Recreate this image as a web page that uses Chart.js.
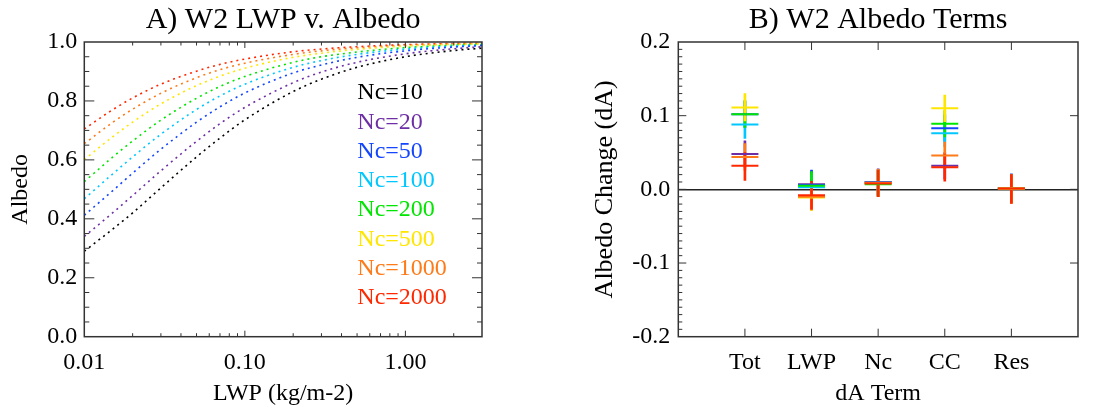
<!DOCTYPE html>
<html>
<head>
<meta charset="utf-8">
<title>W2 LWP v. Albedo / W2 Albedo Terms</title>
<script src="https://cdn.jsdelivr.net/npm/chart.js@4.4.1/dist/chart.umd.min.js"></script>
<style>
  html, body { margin: 0; padding: 0; background: #fff; }
  #wrap { position: relative; width: 1097px; height: 408px; }
  #leftBox { position: absolute; left: 0; top: 0; width: 550px; height: 408px; }
  #rightBox { position: absolute; left: 550px; top: 0; width: 547px; height: 408px; }
</style>
</head>
<body>
<div id="wrap">
  <div id="leftBox"><canvas id="lwpChart" width="550" height="408"></canvas></div>
  <div id="rightBox"><canvas id="termChart" width="547" height="408"></canvas></div>
</div>
<script>
// ---- panel A: albedo vs LWP for each droplet number ----
const lwp = [0.01, 0.015, 0.02, 0.03, 0.05, 0.07, 0.1, 0.2, 0.3, 0.5, 1.0, 2.0, 3.0];
const albNc10   = [0.29, 0.365, 0.42, 0.505, 0.61, 0.674, 0.736, 0.832, 0.874, 0.914, 0.95, 0.971, 0.979];
const albNc20   = [0.34, 0.42, 0.479, 0.563, 0.663, 0.723, 0.778, 0.862, 0.898, 0.931, 0.96, 0.977, 0.984];
const albNc50   = [0.412, 0.495, 0.555, 0.636, 0.728, 0.78, 0.827, 0.895, 0.922, 0.948, 0.97, 0.983, 0.988];
const albNc100  = [0.468, 0.552, 0.61, 0.687, 0.771, 0.817, 0.857, 0.914, 0.937, 0.958, 0.976, 0.986, 0.99];
const albNc200  = [0.526, 0.609, 0.664, 0.735, 0.809, 0.849, 0.883, 0.931, 0.95, 0.966, 0.981, 0.989, 0.992];
const albNc500  = [0.601, 0.678, 0.728, 0.79, 0.852, 0.884, 0.911, 0.948, 0.962, 0.975, 0.986, 0.992, 0.994];
const albNc1000 = [0.655, 0.727, 0.772, 0.826, 0.879, 0.906, 0.928, 0.958, 0.97, 0.98, 0.989, 0.994, 0.995];
const albNc2000 = [0.705, 0.77, 0.81, 0.857, 0.901, 0.924, 0.942, 0.967, 0.976, 0.984, 0.991, 0.995, 0.996];
const ncLabels = ['Nc=10', 'Nc=20', 'Nc=50', 'Nc=100', 'Nc=200', 'Nc=500', 'Nc=1000', 'Nc=2000'];
const ncColors = ['#000000', '#6E2FA6', '#1446FF', '#00C8FF', '#00E600', '#FFE600', '#FF7A18', '#FF2800'];
const xMajorTicks = [0.01, 0.1, 1];
const xMajorLabels = ['0.01', '0.10', '1.00'];

// ---- panel B: albedo change terms (centre, low, high) ----
const terms = ['Tot', 'LWP', 'Nc', 'CC', 'Res'];
const dA20     = [0.048, 0.007, 0.010, 0.032, 0.001];
const dA20lo   = [0.030, -0.011, -0.008, 0.014, -0.017];
const dA20hi   = [0.066, 0.025, 0.028, 0.050, 0.019];
const dA50     = [0.102, 0.006, 0.0095, 0.083, 0.0015];
const dA50lo   = [0.084, -0.012, -0.009, 0.065, -0.017];
const dA50hi   = [0.120, 0.026, 0.027, 0.101, 0.021];
const dA100    = [0.088, 0.003, 0.0085, 0.076, 0.0015];
const dA100lo  = [0.069, -0.015, -0.009, 0.058, -0.017];
const dA100hi  = [0.105, 0.021, 0.026, 0.094, 0.020];
const dA200    = [0.102, 0.005, 0.007, 0.089, 0.001];
const dA200lo  = [0.084, -0.013, -0.010, 0.071, -0.018];
const dA200hi  = [0.120, 0.024, 0.025, 0.107, 0.019];
const dA500    = [0.111, -0.011, 0.009, 0.110, 0.001];
const dA500lo  = [0.093, -0.029, -0.009, 0.092, -0.018];
const dA500hi  = [0.130, 0.007, 0.027, 0.128, 0.019];
const dA1000   = [0.044, -0.010, 0.0085, 0.046, 0.001];
const dA1000lo = [0.026, -0.028, -0.010, 0.028, -0.019];
const dA1000hi = [0.062, 0.008, 0.027, 0.064, 0.020];
const dA2000   = [0.032, -0.008, 0.008, 0.030, 0.001];
const dA2000lo = [0.012, -0.027, -0.010, 0.011, -0.019];
const dA2000hi = [0.050, 0.011, 0.026, 0.048, 0.020];

Chart.defaults.font.family = "'Liberation Serif', 'Times New Roman', serif";
Chart.defaults.color = '#000';

const isMult = (v, step) => Math.abs(v / step - Math.round(v / step)) < 1e-6;

// log axis tick positions: 1..9 in each decade up to 3
const xTickVals = [];
xMajorTicks.forEach(d => {
  for (let m = 1; m <= 9; m++) {
    const v = +(m * d).toPrecision(3);
    if (v <= 3) xTickVals.push(v);
  }
});

// IDL-like box with inward ticks on all four sides
function frameTicks(xLen, yLeftLen, yRightLen) {
  return {
    id: 'frameTicks',
    afterDatasetsDraw(chart) {
      const {ctx, chartArea: a} = chart;
      const xs = chart.scales.x, ys = chart.scales.y;
      ctx.save();
      ctx.strokeStyle = '#333';
      ctx.lineWidth = 1;
      ctx.beginPath();
      xs.ticks.forEach(t => {
        const p = xs.getPixelForValue(t.value);
        if (p <= a.left + 1 || p >= a.right - 1) return;
        const len = xLen(t.value);
        ctx.moveTo(p, a.bottom); ctx.lineTo(p, a.bottom - len);
        ctx.moveTo(p, a.top); ctx.lineTo(p, a.top + len);
      });
      ys.ticks.forEach(t => {
        const p = ys.getPixelForValue(t.value);
        if (p <= a.top + 1 || p >= a.bottom - 1) return;
        const l1 = yLeftLen(t.value), l2 = yRightLen(t.value);
        if (l1) { ctx.moveTo(a.left, p); ctx.lineTo(a.left + l1, p); }
        if (l2) { ctx.moveTo(a.right, p); ctx.lineTo(a.right - l2, p); }
      });
      ctx.stroke();
      ctx.lineWidth = 1.5;
      ctx.strokeRect(a.left, a.top, a.right - a.left, a.bottom - a.top);
      ctx.restore();
    }
  };
}

// coloured Nc labels inside panel A
const ncLegend = {
  id: 'ncLegend',
  afterDatasetsDraw(chart) {
    const {ctx, chartArea: a} = chart;
    ctx.save();
    ctx.font = "24px 'Liberation Serif', serif";
    ctx.textAlign = 'left';
    ctx.textBaseline = 'middle';
    ncLabels.forEach((t, i) => {
      ctx.fillStyle = ncColors[i];
      ctx.fillText(t, a.left + 273, a.top + 51 + i * 29.3);
    });
    ctx.restore();
  }
};

const curves = [albNc10, albNc20, albNc50, albNc100, albNc200, albNc500, albNc1000, albNc2000];

new Chart(document.getElementById('lwpChart'), {
  type: 'line',
  data: {
    datasets: curves.map((c, i) => ({
      label: ncLabels[i],
      data: lwp.map((x, j) => ({x: x, y: c[j]})),
      borderColor: ncColors[i],
      borderWidth: 1.6,
      borderDash: [2, 4],
      pointRadius: 0,
      cubicInterpolationMode: 'monotone',
      fill: false
    }))
  },
  options: {
    responsive: false,
    animation: false,
    events: [],
    layout: {padding: {left: 0, right: 68, top: 0, bottom: 0}},
    plugins: {
      legend: {display: false},
      tooltip: {enabled: false},
      title: {
        display: true,
        text: 'A) W2 LWP v. Albedo',
        color: '#000',
        fullSize: false,
        font: {size: 30, weight: 'normal'},
        padding: {top: 2, bottom: 4}
      }
    },
    scales: {
      x: {
        type: 'logarithmic',
        min: 0.01,
        max: 3,
        afterBuildTicks: s => { s.ticks = xTickVals.map(v => ({value: v})); },
        afterFit: s => { s.height = 71.3; },
        grid: {display: false, drawTicks: false},
        border: {display: false},
        ticks: {
          autoSkip: false,
          maxRotation: 0,
          padding: 12,
          font: {size: 24},
          callback: v => {
            const k = xMajorTicks.findIndex(m => Math.abs(m - v) < 1e-9);
            return k >= 0 ? xMajorLabels[k] : '';
          }
        },
        title: {display: true, text: 'LWP (kg/m-2)', font: {size: 24}, padding: {top: 0, bottom: 0}}
      },
      y: {
        min: 0,
        max: 1,
        afterFit: s => { s.width = 84.3; },
        grid: {display: false, drawTicks: false},
        border: {display: false},
        ticks: {
          stepSize: 0.05,
          autoSkip: false,
          padding: 7,
          font: {size: 24},
          callback: v => isMult(v, 0.2) ? v.toFixed(1) : ''
        },
        title: {display: true, text: 'Albedo', font: {size: 24}, padding: {top: 6, bottom: 0}}
      }
    }
  },
  plugins: [
    frameTicks(v => xMajorTicks.some(m => Math.abs(m - v) < 1e-9) ? 6 : 3.5,
               v => isMult(v, 0.2) ? 10 : 5,
               v => isMult(v, 0.2) ? 10 : 5),
    ncLegend
  ]
});

// panel B: crosses = floating bar (range) + horizontal line marker (centre)
const termMid = [dA20, dA50, dA100, dA200, dA500, dA1000, dA2000];
const termLo = [dA20lo, dA50lo, dA100lo, dA200lo, dA500lo, dA1000lo, dA2000lo];
const termHi = [dA20hi, dA50hi, dA100hi, dA200hi, dA500hi, dA1000hi, dA2000hi];
const termColors = ncColors.slice(1);

const rangeSets = termMid.map((mid, i) => ({
  type: 'bar',
  label: ncLabels[i + 1] + ' range',
  order: 20 - i,
  data: terms.map((t, j) => ({x: j + 1, y: [termLo[i][j], termHi[i][j]]})),
  backgroundColor: termColors[i],
  borderWidth: 0,
  barThickness: 2,
  grouped: false
}));
const midSets = termMid.map((mid, i) => ({
  type: 'line',
  label: ncLabels[i + 1],
  order: 10 - i,
  showLine: false,
  data: terms.map((t, j) => ({x: j + 1, y: mid[j]})),
  pointStyle: 'line',
  pointRadius: 13.5,
  pointBorderWidth: 2,
  pointBorderColor: termColors[i],
  pointBackgroundColor: termColors[i]
}));

new Chart(document.getElementById('termChart'), {
  type: 'bar',
  data: {datasets: rangeSets.concat(midSets)},
  options: {
    responsive: false,
    animation: false,
    events: [],
    layout: {padding: {left: 40, right: 19, top: 0, bottom: 0}},
    plugins: {
      legend: {display: false},
      tooltip: {enabled: false},
      title: {
        display: true,
        text: 'B) W2 Albedo Terms',
        color: '#000',
        fullSize: false,
        font: {size: 30, weight: 'normal'},
        padding: {top: 2, bottom: 4}
      }
    },
    scales: {
      x: {
        type: 'linear',
        offset: false,
        min: 0,
        max: 6,
        afterBuildTicks: s => { s.ticks = terms.map((t, j) => ({value: j + 1})); },
        afterFit: s => { s.height = 71.3; },
        grid: {display: false, drawTicks: false, offset: false},
        border: {display: false},
        ticks: {
          autoSkip: false,
          maxRotation: 0,
          padding: 12,
          font: {size: 24},
          callback: v => terms[Math.round(v) - 1] || ''
        },
        title: {display: true, text: 'dA Term', font: {size: 24}, padding: {top: 0, bottom: 0}}
      },
      y: {
        min: -0.2,
        max: 0.2,
        afterFit: s => { s.width = 88.3; },
        grid: {
          display: true,
          drawTicks: false,
          drawOnChartArea: true,
          color: c => (c.tick && Math.abs(c.tick.value) < 1e-9) ? '#222' : 'rgba(0,0,0,0)',
          lineWidth: c => (c.tick && Math.abs(c.tick.value) < 1e-9) ? 1.5 : 0
        },
        border: {display: false},
        ticks: {
          stepSize: 0.01,
          autoSkip: false,
          padding: 8,
          font: {size: 24},
          callback: v => isMult(v, 0.1) ? (Math.round(v * 10) / 10).toFixed(1) : ''
        },
        title: {display: true, text: 'Albedo Change (dA)', font: {size: 26}, padding: {top: 0, bottom: 0}}
      }
    }
  },
  plugins: [
    frameTicks(() => 8, v => isMult(v, 0.1) ? 8 : 4, v => isMult(v, 0.1) ? 8 : 0)
  ]
});
</script>
</body>
</html>
